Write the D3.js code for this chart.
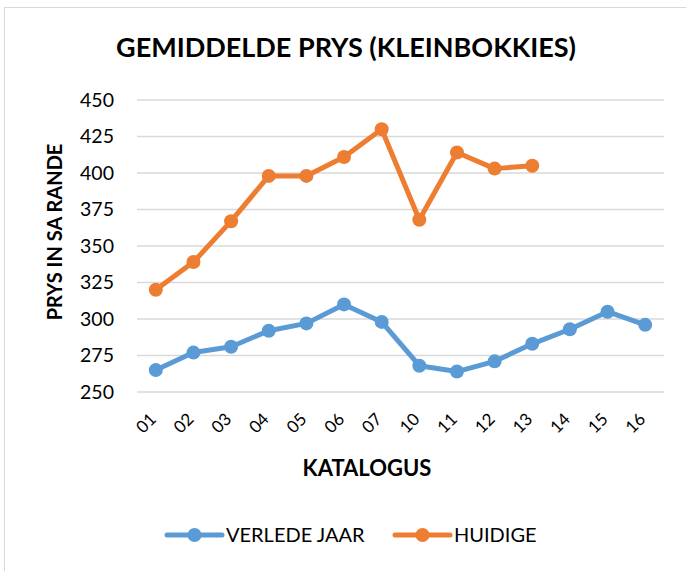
<!DOCTYPE html>
<html>
<head>
<meta charset="utf-8">
<script src="https://cdn.jsdelivr.net/npm/d3@7"></script>
<style>
  body { margin: 0; background: #fff; }
  text { font-family: Lato, "Open Sans", sans-serif; fill: #000; }
</style>
</head>
<body>
<div id="container"></div>
<script>
/* DATA */
const katalogus = ["01", "02", "03", "04", "05", "06", "07", "10", "11", "12", "13", "14", "15", "16"];
const verledeJaar = [265, 277, 281, 292, 297, 310, 298, 268, 264, 271, 283, 293, 305, 296];
const huidige = [320, 339, 367, 398, 398, 411, 430, 368, 414, 403, 405];
const yTicks = [250, 275, 300, 325, 350, 375, 400, 425, 450];

const width = 686,
      height = 571;

const svg = d3.select("#container")
              .append("svg")
              .attr("width", width)
              .attr("height", height);

// chart border
svg.append("rect")
   .attr("x", 4.5).attr("y", 7.5)
   .attr("width", 700).attr("height", 600)
   .attr("fill", "none")
   .attr("stroke", "#d9d9d9");

const xScale = d3.scaleBand()
                 .domain(katalogus)
                 .range([137, 664]);

const yScale = d3.scaleLinear()
                 .domain([250, 450])
                 .range([392, 100]);

// gridlines
svg.append("g")
   .selectAll("line")
   .data(yTicks)
   .join("line")
   .attr("x1", 137).attr("x2", 664)
   .attr("y1", d => yScale(d)).attr("y2", d => yScale(d))
   .attr("stroke", "#d9d9d9")
   .attr("stroke-width", 1.3);

// y axis
const yAxis = d3.axisLeft(yScale).tickValues(yTicks).tickSize(0).tickPadding(0);
const gy = svg.append("g").attr("transform", "translate(114,0)").call(yAxis);
gy.select(".domain").remove();
gy.selectAll("text").style("font-size", "19.5px").attr("font-family", null);

// x axis
const xAxis = d3.axisBottom(xScale).tickSize(0);
const gx = svg.append("g").attr("transform", "translate(0,402)").call(xAxis);
gx.select(".domain").remove();
gx.selectAll("text")
  .attr("font-family", null)
  .style("font-size", "17px")
  .attr("text-anchor", "end")
  .attr("dy", "0.35em")
  .attr("transform", "translate(-5,12) rotate(-45)");

const xPos = (d, i) => xScale(katalogus[i]) + xScale.bandwidth() / 2;

const series = [
  { name: "VERLEDE JAAR", values: verledeJaar, color: "#5b9bd5" },
  { name: "HUIDIGE", values: huidige, color: "#ed7d31" }
];

const line = d3.line().x(xPos).y(d => yScale(d));

series.forEach(s => {
  svg.append("path")
     .datum(s.values)
     .attr("d", line)
     .attr("fill", "none")
     .attr("stroke", s.color)
     .attr("stroke-width", 5)
     .attr("stroke-linejoin", "round")
     .attr("stroke-linecap", "round");

  svg.append("g")
     .selectAll("circle")
     .data(s.values)
     .join("circle")
     .attr("cx", xPos)
     .attr("cy", d => yScale(d))
     .attr("r", 7)
     .attr("fill", s.color);
});

// titles
svg.append("text")
   .attr("x", 346).attr("y", 57)
   .attr("text-anchor", "middle")
   .style("font-size", "27px")
   .style("font-weight", "bold")
   .text("GEMIDDELDE PRYS (KLEINBOKKIES)");

svg.append("text")
   .attr("transform", "translate(62,232) rotate(-90)")
   .attr("text-anchor", "middle")
   .style("font-size", "20px")
   .style("font-weight", "bold")
   .text("PRYS IN SA RANDE");

svg.append("text")
   .attr("x", 367).attr("y", 476)
   .attr("text-anchor", "middle")
   .style("font-size", "22px")
   .style("font-weight", "bold")
   .text("KATALOGUS");

// legend
const legendX = [167, 395];
series.forEach((s, i) => {
  const g = svg.append("g").attr("transform", `translate(${legendX[i]},535)`);
  g.append("line")
   .attr("x1", 0).attr("x2", 55)
   .attr("stroke", s.color).attr("stroke-width", 5)
   .attr("stroke-linecap", "round");
  g.append("circle").attr("cx", 27.5).attr("r", 7).attr("fill", s.color);
  g.append("text")
   .attr("x", 59).attr("dy", "0.36em")
   .style("font-size", "20px")
   .text(s.name);
});
</script>
</body>
</html>
